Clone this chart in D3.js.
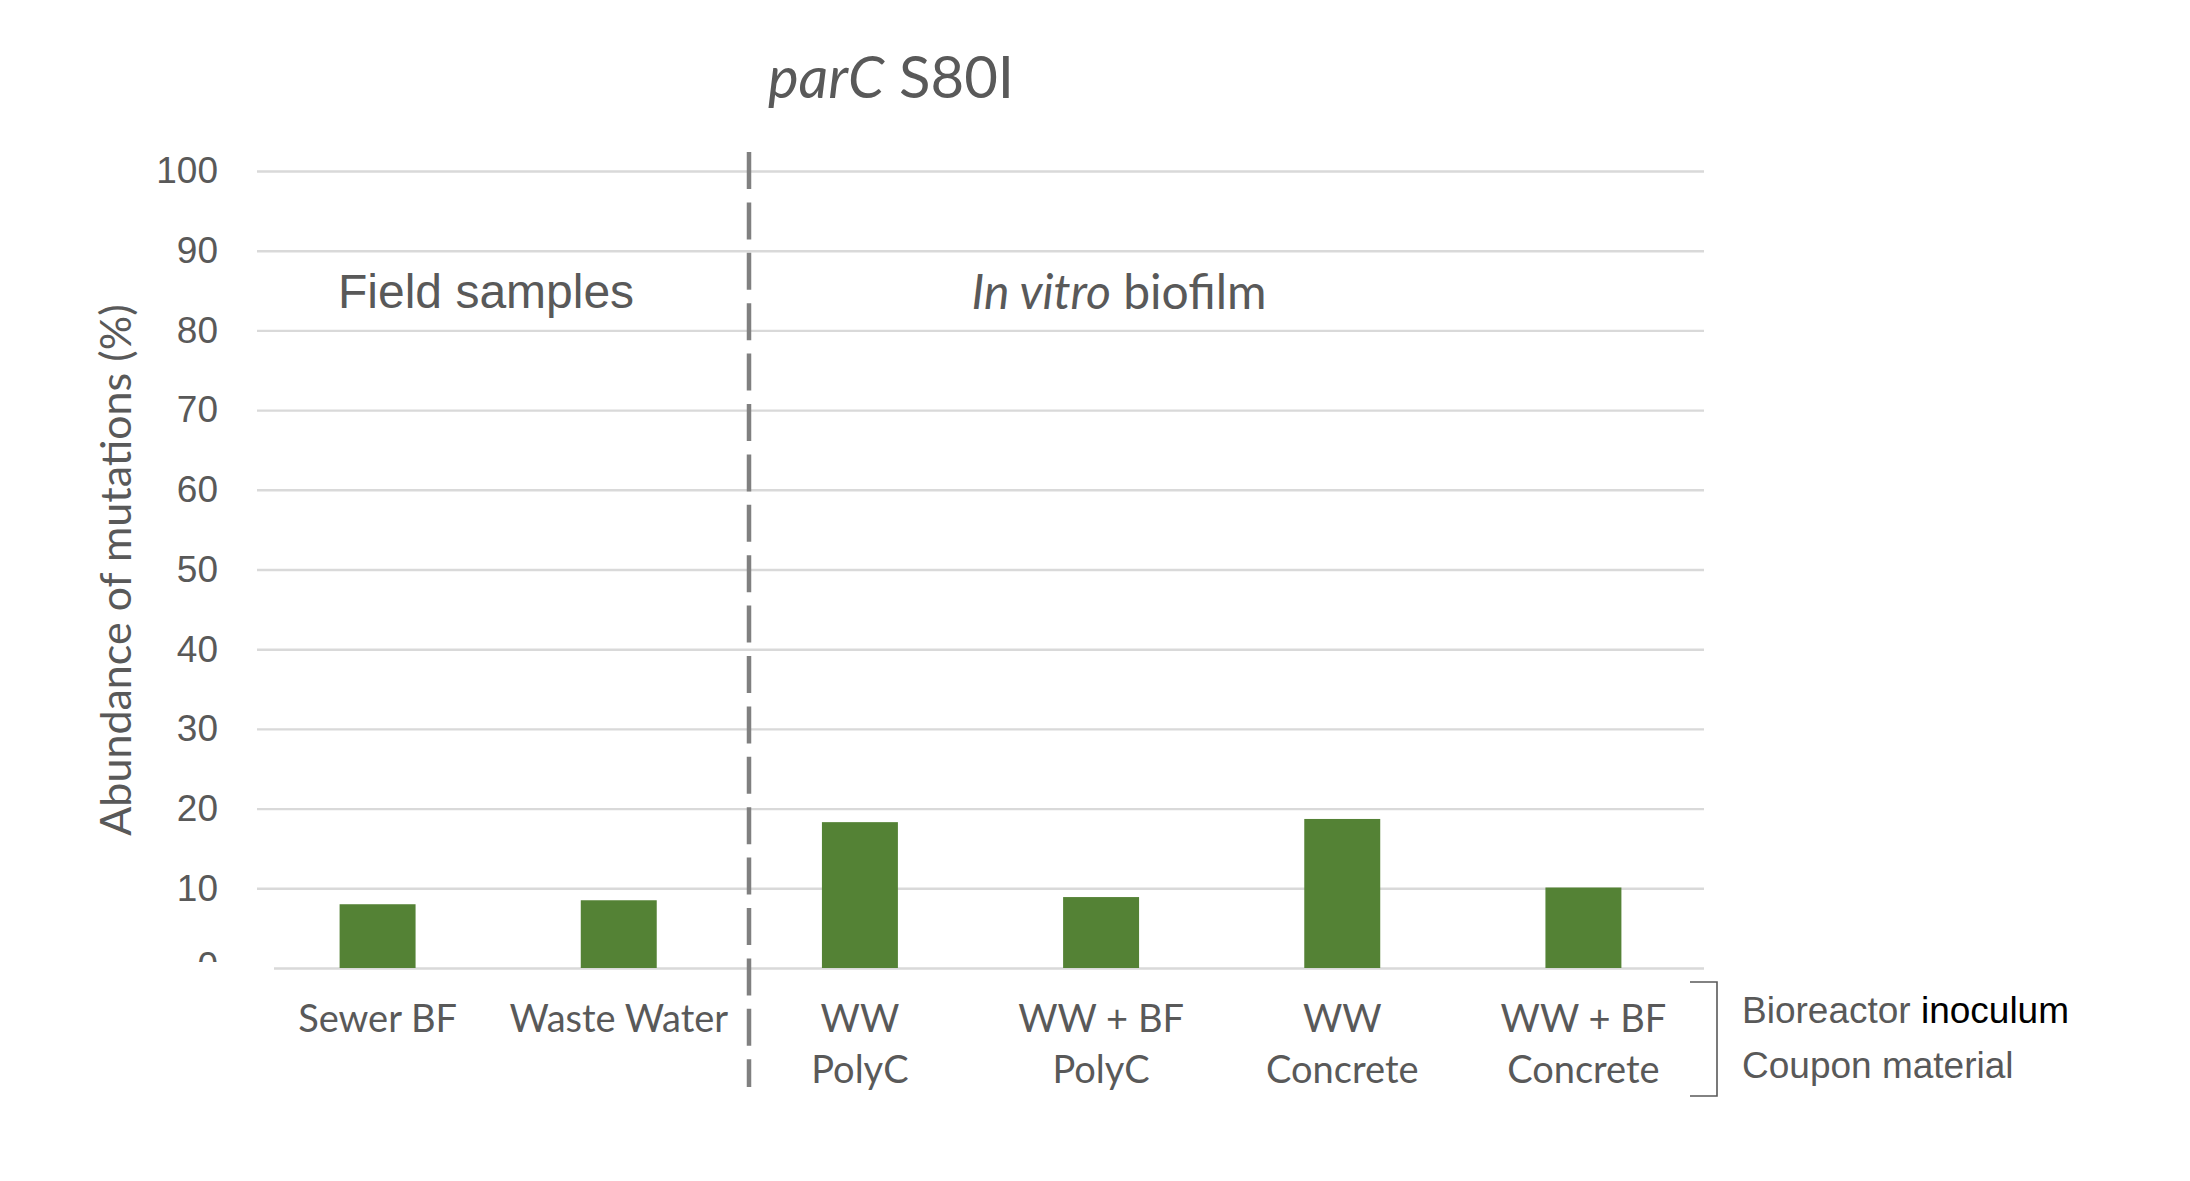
<!DOCTYPE html>
<meta charset="utf-8">
<script src="https://d3js.org/d3.v7.min.js"></script>
<style>
  body { margin: 0; background: #fff; }
  text { fill: #595959; }
</style>
<div id="chart"></div>
<script>
  // data
  const categories = ["Sewer BF", "Waste Water", "WW PolyC", "WW + BF PolyC", "WW Concrete", "WW + BF Concrete"];
  const labelLines = [["Sewer BF"], ["Waste Water"], ["WW", "PolyC"], ["WW + BF", "PolyC"], ["WW", "Concrete"], ["WW + BF", "Concrete"]];
  const values = [8.0, 8.5, 18.3, 8.9, 18.7, 10.1];
  const yTicks = [0, 10, 20, 30, 40, 50, 60, 70, 80, 90, 100];

  const W = 2190, H = 1181;
  const calibri = "Lato, 'Open Sans', sans-serif";
  const arial = "'Liberation Sans', Arial, sans-serif";

  const svg = d3.select("#chart").append("svg")
    .attr("width", W).attr("height", H);

  const x = d3.scaleBand()
    .domain(categories)
    .range([257, 1704])
    .paddingInner(0.685)
    .paddingOuter(0.3425);

  const y = d3.scaleLinear().domain([0, 100]).range([968, 171]);

  // clip for the cut-off "0" label
  svg.append("clipPath").attr("id", "zeroClip")
    .append("rect").attr("x", 0).attr("y", 0).attr("width", 257).attr("height", 962);

  // y axis with gridlines
  const yAxis = svg.append("g")
    .attr("transform", "translate(257,0)")
    .call(d3.axisLeft(y).tickValues(yTicks).tickSize(-(1704 - 257)).tickPadding(39));
  yAxis.select(".domain").remove();
  yAxis.selectAll(".tick line").attr("stroke", "#d9d9d9").attr("stroke-width", 2.4);
  yAxis.selectAll(".tick text")
    .style("font-family", arial).style("font-size", "37px").attr("fill", "#595959");
  // baseline starts a little further right
  const zeroTick = yAxis.selectAll(".tick").filter(d => d === 0);
  zeroTick.select("line").attr("x1", 17);
  zeroTick.select("text").remove();
  // the 0 label is mostly hidden in the original
  svg.append("text")
    .attr("clip-path", "url(#zeroClip)")
    .attr("x", 218).attr("y", y(0) - 3).attr("dy", "0.35em")
    .attr("text-anchor", "end")
    .style("font-family", arial).style("font-size", "37px")
    .text("0");

  // bars
  svg.append("g").selectAll("rect")
    .data(categories)
    .join("rect")
    .attr("x", d => x(d))
    .attr("width", x.bandwidth())
    .attr("y", (d, i) => y(values[i]))
    .attr("height", (d, i) => y(0) - y(values[i]))
    .attr("fill", "#548235");

  // category labels
  const lab = svg.append("g").selectAll("text")
    .data(categories)
    .join("text")
    .attr("x", d => x(d) + x.bandwidth() / 2)
    .attr("y", 1032)
    .attr("text-anchor", "middle")
    .style("font-family", calibri).style("font-size", "38px");
  lab.each(function (d, i) {
    labelLines[i].forEach((t, j) => {
      d3.select(this).append("tspan")
        .attr("x", x(d) + x.bandwidth() / 2)
        .attr("dy", j ? 51 : 0)
        .text(t);
    });
  });

  // dashed separator
  svg.append("line")
    .attr("x1", 749).attr("x2", 749)
    .attr("y1", 152).attr("y2", 1087)
    .attr("stroke", "#808080").attr("stroke-width", 4.5)
    .attr("stroke-dasharray", "37 13.4");

  // title
  const title = svg.append("text")
    .attr("x", 891).attr("y", 98)
    .attr("text-anchor", "middle")
    .style("font-family", calibri).style("font-size", "58px");
  title.append("tspan").style("font-style", "italic").text("parC");
  title.append("tspan").text(" S80I");

  // group labels
  svg.append("text")
    .attr("x", 338).attr("y", 308)
    .style("font-family", arial).style("font-size", "48px")
    .text("Field samples");

  const vitro = svg.append("text")
    .attr("x", 1119).attr("y", 309)
    .attr("text-anchor", "middle")
    .style("font-family", calibri).style("font-size", "48px");
  vitro.append("tspan").style("font-style", "italic").text("In vitro");
  vitro.append("tspan").text(" biofilm");

  // y axis title
  svg.append("text")
    .attr("transform", "translate(131,570) rotate(-90)")
    .attr("text-anchor", "middle")
    .style("font-family", calibri).style("font-size", "43px")
    .text("Abundance of mutations (%)");

  // bracket and legend text
  svg.append("path")
    .attr("d", "M1690,982H1717V1096H1690")
    .attr("fill", "none").attr("stroke", "#595959").attr("stroke-width", 1.6);

  const bio = svg.append("text")
    .attr("x", 1742).attr("y", 1023)
    .style("font-family", arial).style("font-size", "37px");
  bio.append("tspan").text("Bioreactor ");
  bio.append("tspan").style("fill", "#000").text("inoculum");

  svg.append("text")
    .attr("x", 1742).attr("y", 1078)
    .style("font-family", arial).style("font-size", "37px")
    .text("Coupon material");
</script>
